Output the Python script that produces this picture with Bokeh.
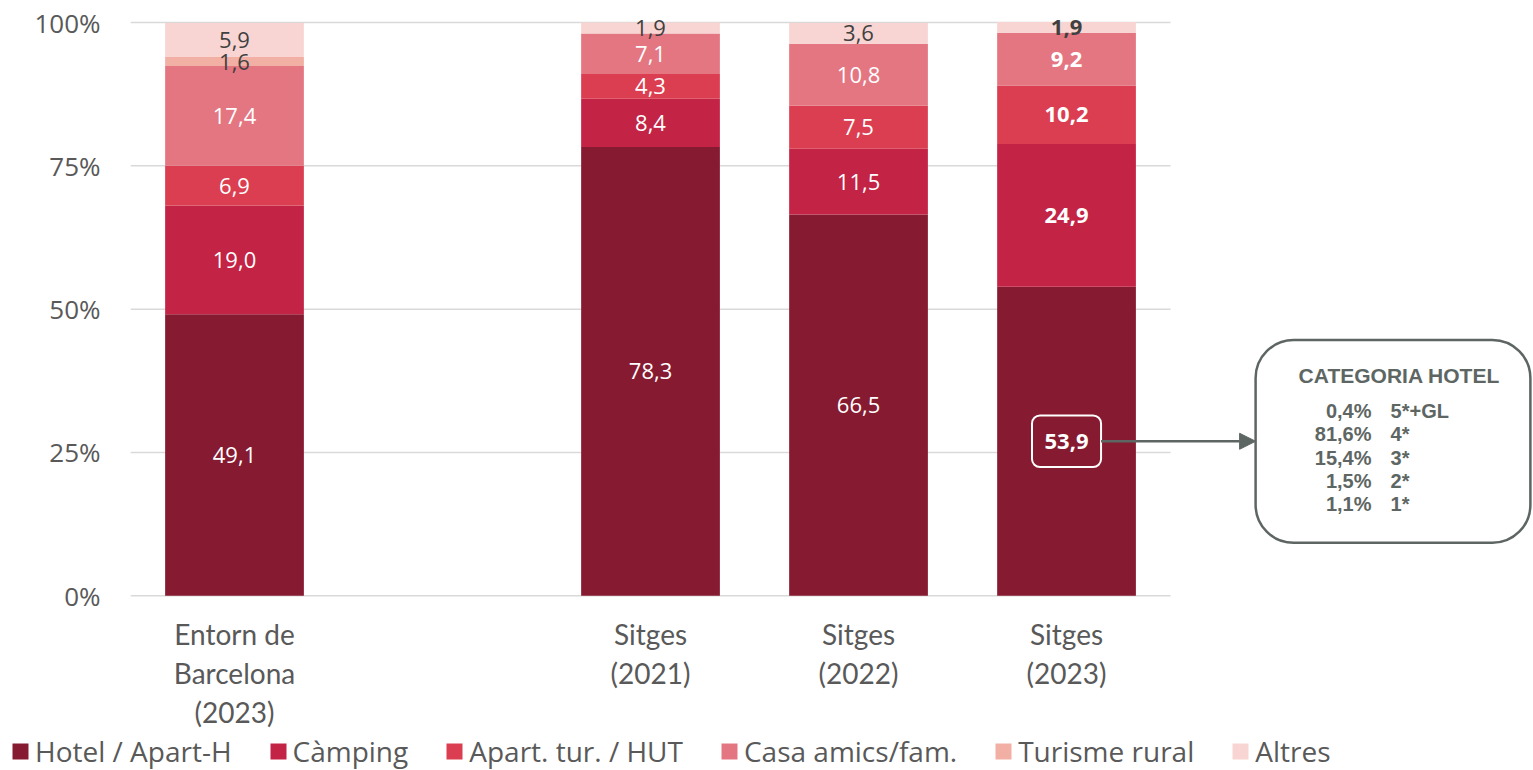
from bokeh.plotting import figure
from bokeh.embed import file_html
from bokeh.resources import INLINE
from bokeh.layouts import column
from bokeh.models import (Range1d, FixedTicker, Legend, LegendItem, ColumnDataSource,
                          BoxAnnotation, Arrow, NormalHead)
from bokeh.core.properties import value

# ---------------- data ----------------
categories = ["Entorn de\nBarcelona\n(2023)", "", "Sitges\n(2021)", "Sitges\n(2022)", "Sitges\n(2023)"]
series_names = ["Hotel / Apart-H", "Càmping", "Apart. tur. / HUT", "Casa amics/fam.", "Turisme rural", "Altres"]
hotel   = [49.1, 0, 78.3, 66.5, 53.9]
camping = [19.0, 0, 8.4, 11.5, 24.9]
apart   = [6.9, 0, 4.3, 7.5, 10.2]
casa    = [17.4, 0, 7.1, 10.8, 9.2]
rural   = [1.6, 0, 0.0, 0.0, 0.0]
altres  = [5.9, 0, 1.9, 3.6, 1.9]
y_ticks = [0, 25, 50, 75, 100]
y_tick_labels = ["0%", "25%", "50%", "75%", "100%"]
hotel_cat_pct = [0.4, 81.6, 15.4, 1.5, 1.1]
hotel_cat_names = ["5*+GL", "4*", "3*", "2*", "1*"]
hotel_cat_title = "CATEGORIA HOTEL"

colors = ["#861A30", "#C32344", "#DB3E50", "#E47682", "#F2AFA4", "#F8D5D2"]
label_colors = ["white", "white", "white", "white", "#404040", "#404040"]
GRAY = "#5E6663"
TXT = "#595959"

def fmt(v):
    return f"{v:.1f}".replace(".", ",")

series = [hotel, camping, apart, casa, rural, altres]
keys = ["hotel", "camping", "apart", "casa", "rural", "altres"]
idx = [i for i, c in enumerate(categories) if c]
xs = [i + 0.5 for i in idx]

src = ColumnDataSource(dict(x=xs, **{k: [s[i] for i in idx] for k, s in zip(keys, series)}))

p = figure(width=1533, height=732, output_backend="svg", toolbar_location=None,
           x_range=Range1d(0, 6.745), y_range=Range1d(-1.0, 101.4),
           min_border_left=130, min_border_right=0, min_border_top=14, min_border_bottom=130)
p.outline_line_color = None
p.xgrid.visible = False
p.ygrid.visible = False

# gridlines
p.segment(x0=0, x1=len(categories), y0=y_ticks, y1=y_ticks, line_color="#D9D9D9", line_width=1.5)

rs = p.vbar_stack(keys, x="x", width=0.667, color=colors, line_color=None, source=src)

# data labels
lx, ly, lt, lc, lstyle = [], [], [], [], []
for i in idx:
    base = 0.0
    for s, col in zip(series, label_colors):
        v = s[i]
        if v > 0:
            lx.append(i + 0.5)
            ly.append(base + v / 2)
            lt.append(fmt(v))
            lc.append(col)
            lstyle.append("bold" if i == idx[-1] else "normal")
        base += v
p.text(x="x", y="y", text="t", text_color="c", text_font_style="s",
       source=ColumnDataSource(dict(x=lx, y=ly, t=lt, c=lc, s=lstyle)),
       text_align="center", text_baseline="middle", text_font=value("Open Sans"),
       text_font_size="22px")

# highlight box around last hotel value
last = idx[-1] + 0.5
hy = hotel[idx[-1]] / 2
p.add_layout(BoxAnnotation(left=last - 0.166, right=last + 0.166, bottom=hy - 4.5, top=hy + 4.5,
                           fill_alpha=0, line_color="white", line_alpha=1, line_width=2, border_radius=8))

# callout box
bx0, bx1, by0, by1 = 5.409, 6.73, 9.23, 44.6
p.add_layout(BoxAnnotation(left=bx0, right=bx1, bottom=by0, top=by1, fill_alpha=0,
                           line_color=GRAY, line_alpha=1, line_width=2.5, border_radius=38))
p.add_layout(Arrow(end=NormalHead(size=16, fill_color=GRAY, line_color=GRAY),
                   x_start=last + 0.166, y_start=hy, x_end=bx0, y_end=hy,
                   line_color=GRAY, line_width=2.5))

p.text(x=[6.10], y=[38.4], text=[hotel_cat_title], text_align="center", text_baseline="middle",
       text_font=value("Liberation Sans"), text_font_style="bold", text_font_size="21px", text_color=GRAY)
n = len(hotel_cat_pct)
offs = [35.5 + 23.3 * k for k in range(n)]
p.text(x=[5.966] * n, y=[38.4] * n, y_offset=offs,
       text=[fmt(v) + "%" for v in hotel_cat_pct], text_align="right", text_baseline="middle",
       text_font=value("Liberation Sans"), text_font_style="bold", text_font_size="20px", text_color=GRAY)
p.text(x=[6.058] * n, y=[38.4] * n, y_offset=offs,
       text=hotel_cat_names, text_align="left", text_baseline="middle",
       text_font=value("Liberation Sans"), text_font_style="bold", text_font_size="20px", text_color=GRAY)

# axes
p.yaxis.ticker = FixedTicker(ticks=y_ticks)
p.yaxis.major_label_overrides = {t: l for t, l in zip(y_ticks, y_tick_labels)}
p.yaxis.axis_line_color = None
p.yaxis.major_tick_line_color = None
p.yaxis.minor_tick_line_color = None
p.yaxis.major_tick_out = 0
p.yaxis.major_label_standoff = 30
p.yaxis.major_label_text_font = "Open Sans"
p.yaxis.major_label_text_font_size = "26px"
p.yaxis.major_label_text_color = TXT

p.xaxis.ticker = FixedTicker(ticks=xs)
p.xaxis.major_label_overrides = {i + 0.5: categories[i] for i in idx}
p.xaxis.axis_line_color = None
p.xaxis.major_tick_line_color = None
p.xaxis.minor_tick_line_color = None
p.xaxis.major_tick_out = 0
p.xaxis.major_label_standoff = 15
p.xaxis.major_label_text_font = "Lato"
p.xaxis.major_label_text_font_size = "28px"
p.xaxis.major_label_text_color = TXT
p.xaxis.major_label_text_line_height = 1.16

# legend in a strip below
p2 = figure(width=1533, height=38, output_backend="svg", toolbar_location=None,
            x_range=Range1d(0, 1), y_range=Range1d(0, 1),
            min_border_left=0, min_border_right=0, min_border_top=0, min_border_bottom=0)
p2.axis.visible = False
p2.grid.visible = False
p2.outline_line_color = None
p.frame_align = False
p2.frame_align = False
lrs = [p2.quad(left=[5], right=[6], top=[5], bottom=[4], fill_color=c, line_color=None) for c in colors]
legend = Legend(items=[LegendItem(label=nm, renderers=[r]) for nm, r in zip(series_names, lrs)],
                orientation="horizontal", location=(10, 0), padding=0, margin=0,
                border_line_color=None, background_fill_alpha=0,
                glyph_width=20, glyph_height=20, label_standoff=5, spacing=36,
                label_text_font="Open Sans", label_text_font_size="28px", label_text_color=TXT)
p2.add_layout(legend, "center")

open("out.html", "w").write(file_html(column(p, p2, spacing=0), INLINE))
